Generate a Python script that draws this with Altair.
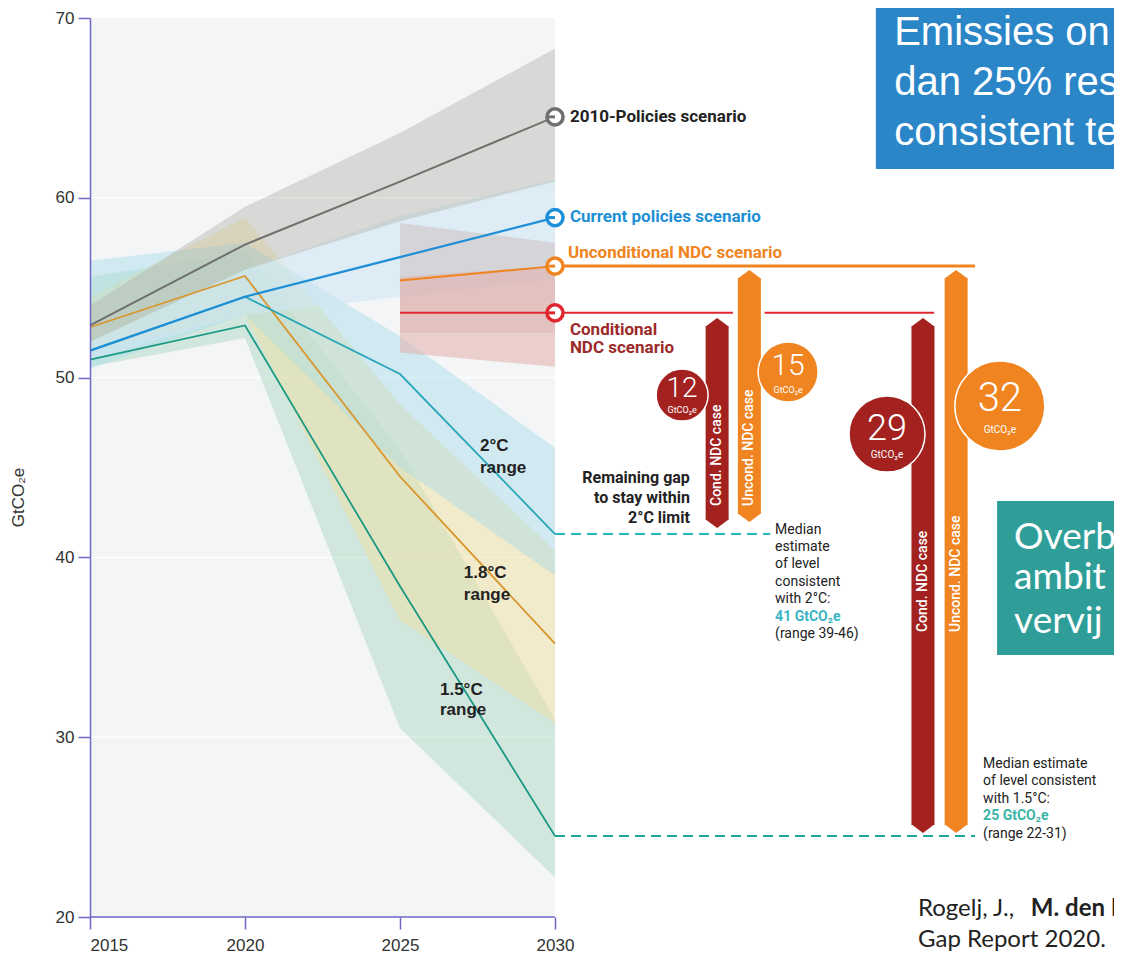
import altair as alt
import pandas as pd

# ---------------- data ----------------
years = [2015, 2020, 2025, 2030]
ndc_years = [2025, 2030]

policies2010 = [52.9, 57.4, 60.9, 64.5]
current = [51.5, 54.5, 56.7, 58.9]
uncond_ndc = [55.4, 56.2]
cond_ndc = [53.6, 53.6]
deg2 = [51.5, 54.5, 50.2, 41.3]
deg18 = [52.8, 55.65, 44.5, 35.2]
deg15 = [51.0, 52.9, 38.4, 24.5]

policies2010_lo = [52.0, 56.0, 58.7, 60.9]
policies2010_hi = [54.0, 59.5, 63.6, 68.3]
current_lo = [51.0, 53.5, 54.5, 55.5]
current_hi = [52.0, 56.0, 59.0, 61.0]
uncond_lo = [52.5, 52.5]
uncond_hi = [58.6, 57.5]
cond_lo = [51.4, 50.6]
cond_hi = [55.6, 56.2]
deg2_lo = [50.5, 53.5, 45.0, 39.0]
deg2_hi = [56.5, 57.5, 52.3, 46.1]
deg18_lo = [51.5, 53.5, 36.5, 30.8]
deg18_hi = [54.5, 58.9, 48.5, 40.4]
deg15_lo = [50.6, 52.2, 30.5, 22.2]
deg15_hi = [55.6, 57.0, 46.0, 31.0]

# gap bars (centre year, shoulder top, shoulder bottom)
bar_x = [2035.23, 2036.27, 2041.87, 2042.94]
bar_top = [52.87, 55.54, 52.87, 55.54]
bar_bottom = [42.08, 42.41, 25.12, 25.12]
bar_kind = ["cond", "uncond", "cond", "uncond"]
bar_text = ["Cond. NDC case", "Uncond. NDC case", "Cond. NDC case", "Uncond. NDC case"]
bar_text_y = [42.86, 42.86, 35.85, 35.85]

# gap circles
circ_x = [2034.10, 2037.52, 2040.71, 2044.35]
circ_y = [49.03, 50.31, 46.86, 48.42]
circ_area = [2704, 3600, 5776, 8100]
circ_kind = ["cond", "uncond", "cond", "uncond"]
circ_num = ["12", "15", "29", "32"]
circ_num_y = [49.35, 50.62, 47.15, 48.8]
circ_num_fs = [28, 30, 36, 40]
circ_sub_y = [48.22, 49.33, 45.72, 47.1]
circ_sub_fs = [9, 9, 10, 10]

# ---------------- style ----------------
PURPLE = "#6f66c6"
GRAY = "#6d706c"
BLUE = "#1d8fd6"
ORANGE = "#ef8421"
RED = "#e0262e"
DARKRED = "#a3221f"
T2 = "#28a6b9"
T18 = "#d8962b"
T15 = "#1c9a84"
TXT = "#222222"

X_END = 2015 + 1024 / 31
xs = alt.Scale(domain=[2015, X_END], nice=False, zero=False)
ys = alt.Scale(domain=[20, 70], nice=False, zero=False)

xaxis = alt.Axis(values=[2015, 2020, 2025, 2030], format="d", domain=False, grid=False,
                 tickColor=PURPLE, tickWidth=1.5, tickSize=12, labelFont="Liberation Sans",
                 labelFontSize=17, labelColor="#333333", labelPadding=8, title=None, zindex=1)
yaxis = alt.Axis(values=[20, 30, 40, 50, 60, 70], domain=True, domainColor=PURPLE, domainWidth=1.5,
                 grid=False, tickColor=PURPLE, tickWidth=1.5, tickSize=12,
                 labelFont="Liberation Sans", labelFontSize=17, labelColor="#333333", labelPadding=4,
                 title="GtCO₂e", titleFont="Liberation Sans", titleFontSize=17,
                 titleFontWeight="normal", titleColor="#333333", titleX=-72, titleY=479,
                 titleAngle=270, titleAlign="center", titleBaseline="middle", zindex=1)

X = alt.X("x:Q", scale=xs, axis=xaxis)
Y = alt.Y("y:Q", scale=ys, axis=yaxis)
X2 = alt.X2("x2:Q")
Y2 = alt.Y2("y2:Q")
kind_color = alt.Color("k:N", scale=alt.Scale(domain=["cond", "uncond"], range=[DARKRED, ORANGE]),
                       legend=None)
circ_color = alt.Color("k:N", scale=alt.Scale(domain=["cond", "uncond"], range=["#cf1f2e", "#f1952f"]),
                       legend=None)

layers = []

# panel background
panel = pd.DataFrame({"x": [years[0]], "x2": [years[-1]], "y": [20], "y2": [70]})
layers.append(alt.Chart(panel).mark_rect(color="#f3f5f7").encode(x=X, x2=X2, y=Y, y2=Y2))

grid_vals = [30, 40, 50, 60]
gdf = pd.DataFrame({"x": [years[0]] * 4, "x2": [years[-1]] * 4, "y": grid_vals})
layers.append(alt.Chart(gdf).mark_rule(color="white", strokeWidth=1.5).encode(x=X, x2=X2, y=Y))


def band(xv, lo, hi, color, op):
    df = pd.DataFrame({"x": xv, "y": lo, "y2": hi})
    return alt.Chart(df).mark_area(color=color, opacity=op).encode(x=X, y=Y, y2=Y2)


def line(xv, yv, color, w=2.0):
    df = pd.DataFrame({"x": xv, "y": yv})
    return alt.Chart(df).mark_line(color=color, strokeWidth=w).encode(x=X, y=Y)


layers += [
    band(years, deg15_lo, deg15_hi, "#a8d8bf", 0.45),
    band(years, deg18_lo, deg18_hi, "#efe0a0", 0.5),
    band(years, deg2_lo, deg2_hi, "#a9dbe8", 0.45),
    band(years, current_lo, current_hi, "#cfe6f3", 0.6),
    band(years, policies2010_lo, policies2010_hi, "#b3b2a9", 0.42),
    band(ndc_years, uncond_lo, uncond_hi, "#c9b8b8", 0.45),
    band(ndc_years, cond_lo, cond_hi, "#e3aaa4", 0.5),
]

layers += [
    line(years, deg15, T15, 1.8),
    line(years, deg18, T18, 1.8),
    line(years, deg2, T2, 1.8),
    line(years, policies2010, GRAY, 2),
    line(years, current, BLUE, 2.2),
    line(ndc_years, uncond_ndc, ORANGE, 2),
    line(ndc_years, cond_ndc, RED, 2),
]


def hrule(x1, x2, yv, color, w, dash=None):
    df = pd.DataFrame({"x": x1, "x2": x2, "y": yv})
    mk = dict(color=color, strokeWidth=w)
    if dash:
        mk["strokeDash"] = dash
    return alt.Chart(df).mark_rule(**mk).encode(x=X, x2=X2, y=Y)


# x-axis line
layers.append(hrule([years[0]], [years[-1]], [20], PURPLE, 1.5))

# extension lines
layers.append(hrule([2030, 2036.76], [2035.74, 2042.23], [cond_ndc[-1]] * 2, RED, 2))
layers.append(hrule([2030], [2043.55], [uncond_ndc[-1]], ORANGE, 3))
layers.append(hrule([2030], [2036.94], [deg2[-1]], "#2ab3c0", 2, [10, 6]))
layers.append(hrule([2030], [2043.55], [deg15[-1]], "#1fa590", 2, [10, 6]))

# end circles at 2030
ends = [(policies2010[-1], GRAY), (current[-1], BLUE), (uncond_ndc[-1], ORANGE), (cond_ndc[-1], RED)]
for val, col in ends:
    df = pd.DataFrame({"x": [2030], "y": [val]})
    layers.append(alt.Chart(df).mark_point(shape="circle", size=260, filled=True, fill="white",
                                            stroke=col, strokeWidth=3.5, opacity=1)
                  .encode(x=X, y=Y))
    df2 = pd.DataFrame({"x": [2029.72], "x2": [2030], "y": [val]})
    layers.append(alt.Chart(df2).mark_rule(color=col, strokeWidth=3).encode(x=X, x2=X2, y=Y))

# gap bars
bdf = pd.DataFrame({"x": bar_x, "y": bar_top, "y2": bar_bottom, "k": bar_kind,
                    "t": bar_text, "ty": bar_text_y})
layers.append(alt.Chart(bdf).mark_rule(strokeWidth=23, strokeCap="butt")
              .encode(x=X, y=Y, y2=Y2, color=kind_color))
layers.append(alt.Chart(bdf).mark_point(shape="M-1,0.05L0,-0.7L1,0.05Z", size=529, filled=True,
                                        opacity=1, strokeWidth=0)
              .encode(x=X, y=Y, color=kind_color))
layers.append(alt.Chart(bdf).mark_point(shape="M-1,-0.05L0,0.7L1,-0.05Z", size=529, filled=True,
                                        opacity=1, strokeWidth=0)
              .encode(x=X, y=alt.Y("y2:Q", scale=ys, axis=yaxis), color=kind_color))
layers.append(alt.Chart(bdf).mark_text(angle=270, align="left", baseline="middle", font="Roboto",
                                       fontSize=14, fontWeight=500, color="white")
              .encode(x=X, y=alt.Y("ty:Q", scale=ys, axis=yaxis), text="t:N"))

# gap circles
cdf = pd.DataFrame({"x": circ_x, "y": circ_y, "s": circ_area, "k": circ_kind, "n": circ_num,
                    "ny": circ_num_y, "nf": circ_num_fs, "sy": circ_sub_y, "sf": circ_sub_fs})
layers.append(alt.Chart(cdf).mark_circle(opacity=1, stroke="white", strokeWidth=1.5)
              .encode(x=X, y=Y, size=alt.Size("s:Q", scale=None, legend=None), color=circ_color))
layers.append(alt.Chart(cdf).mark_text(align="center", baseline="middle", font="Roboto",
                                       fontWeight=300, color="white")
              .encode(x=X, y=alt.Y("ny:Q", scale=ys, axis=yaxis), text="n:N",
                      size=alt.Size("nf:Q", scale=None, legend=None)))
layers.append(alt.Chart(cdf).mark_text(align="center", baseline="middle", font="Roboto",
                                       color="white", text="GtCO₂e")
              .encode(x=X, y=alt.Y("sy:Q", scale=ys, axis=yaxis),
                      size=alt.Size("sf:Q", scale=None, legend=None)))


def text_layer(xv, yv, tv, color, size, weight="normal", font="Roboto", align="left"):
    df = pd.DataFrame({"x": xv, "y": yv, "t": tv})
    return alt.Chart(df).mark_text(align=align, baseline="middle", font=font, fontSize=size,
                                   fontWeight=weight, color=color).encode(x=X, y=Y, text="t:N")


# scenario labels
layers.append(text_layer([2030.48], [64.49], ["2010-Policies scenario"], TXT, 17, "bold"))
layers.append(text_layer([2030.48], [58.93], ["Current policies scenario"], BLUE, 17, "bold"))
layers.append(text_layer([2030.42], [56.93], ["Unconditional NDC scenario"], ORANGE, 17, "bold"))
layers.append(text_layer([2030.48, 2030.48], [52.65, 51.65], ["Conditional", "NDC scenario"],
                         "#9c2a2a", 17, "bold"))

# range labels
layers.append(text_layer([2027.58, 2027.58], [46.2, 44.97], ["2°C", "range"], TXT, 17, "bold",
                         "Liberation Sans"))
layers.append(text_layer([2027.06, 2027.06], [39.13, 37.91], ["1.8°C", "range"], TXT, 17, "bold",
                         "Liberation Sans"))
layers.append(text_layer([2026.29, 2026.29], [32.63, 31.51], ["1.5°C", "range"], TXT, 17, "bold",
                         "Liberation Sans"))

layers.append(text_layer([2034.35] * 3, [44.42, 43.30, 42.19],
                         ["Remaining gap", "to stay within", "2°C limit"], TXT, 16, "bold",
                         align="right"))

layers.append(text_layer([2037.10] * 5, [41.52, 40.58, 39.63, 38.63, 37.69],
                         ["Median", "estimate", "of level", "consistent", "with 2°C:"], TXT, 14))
layers.append(text_layer([2037.10], [36.69], ["41 GtCO₂e"], "#3bb5c5", 14, "bold"))
layers.append(text_layer([2037.10], [35.74], ["(range 39-46)"], TXT, 14))

layers.append(text_layer([2043.81] * 3, [28.51, 27.56, 26.56],
                         ["Median estimate", "of level consistent", "with 1.5°C:"], TXT, 14))
layers.append(text_layer([2043.81], [25.62], ["25 GtCO₂e"], "#3bb5a5", 14, "bold"))
layers.append(text_layer([2043.81], [24.62], ["(range 22-31)"], TXT, 14))

# slide overlays
boxes = pd.DataFrame({"x": [2040.35, 2044.26], "x2": [2048.6, 2048.6], "y": [61.6, 34.57],
                      "y2": [71.5, 43.14], "c": ["#2b86c8", "#2f9e99"]})
layers.append(alt.Chart(boxes).mark_rect().encode(x=X, x2=X2, y=Y, y2=Y2,
                                                  color=alt.Color("c:N", scale=None)))
layers.append(text_layer([2040.94] * 3, [69.17, 66.38, 63.60],
                         ["Emissies on", "dan 25% res", "consistent te"], "white", 40,
                         font="Liberation Sans"))
layers.append(text_layer([2044.81] * 3, [41.08, 38.85, 36.41],
                         ["Overb", "ambit", "vervij"], "white", 37, font="Lato"))
layers.append(text_layer([2041.71, 2041.71], [20.44, 18.72], ["Rogelj, J.,", "Gap Report 2020."],
                         TXT, 24, font="Lato"))
layers.append(text_layer([2045.35], [20.44], ["M. den E"], TXT, 24, "bold", font="Lato"))

chart = alt.layer(*layers).properties(
    width=1024, height=899,
    padding={"left": 82, "top": 10, "right": 0, "bottom": 34},
    autosize=alt.AutoSizeParams(type="none"),
    background="white",
).configure_view(stroke=None)

chart.save("out.html", embed_options={"renderer": "svg", "actions": False})
